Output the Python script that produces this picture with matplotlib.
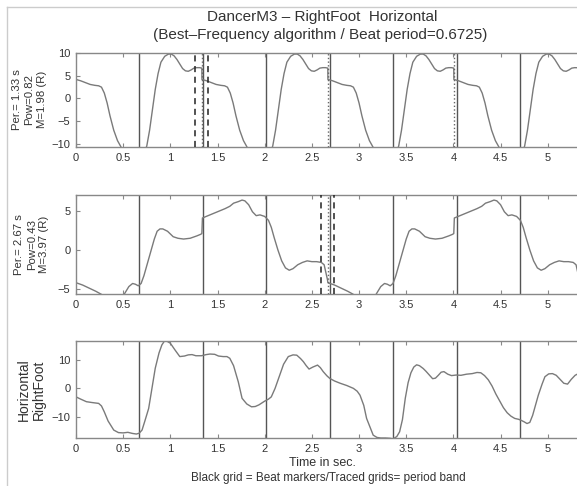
import numpy as np
import matplotlib
matplotlib.use('Agg')
from matplotlib import pyplot as plt
from matplotlib.lines import Line2D

plt.rcParams['font.family'] = ['Liberation Sans', 'DejaVu Sans']

beat_period = 0.6725
n_beats = 8

# top panel: one period (1.335 s) of the folded signal
top_period = 1.335
top_t = [0, 0.05, 0.10, 0.15, 0.20, 0.24, 0.27, 0.30, 0.33, 0.36, 0.40, 0.44, 0.48,
         0.52, 0.57, 0.62, 0.67, 0.71, 0.75, 0.78, 0.81, 0.84, 0.87, 0.90, 0.94,
         0.98, 1.01, 1.04, 1.07, 1.10, 1.13, 1.16, 1.19, 1.22, 1.25, 1.28, 1.31, 1.334]
top_v = [4.2, 3.9, 3.5, 3.1, 2.9, 2.8, 2.5, 1.2, -1.0, -3.8, -7.0, -9.3, -10.8,
         -12.5, -14.0, -14.5, -14.0, -12.5, -10.5, -7.0, -2.5, 2.0, 5.5, 8.0, 9.3,
         9.8, 9.8, 9.4, 8.6, 7.6, 6.6, 6.1, 6.0, 6.3, 6.7, 6.8, 6.8, 6.7]
top_band = [1.265, 1.40]
top_label = 'Per.= 1.33 s\nPow=0.82\nM=1.98 (R)'

# middle panel: one period (2.67 s)
mid_period = 2.67
mid_t = [0, 0.07, 0.14, 0.21, 0.27, 0.33, 0.39, 0.45, 0.51, 0.56, 0.60, 0.63, 0.66,
         0.69, 0.72, 0.76, 0.80, 0.83, 0.86, 0.89, 0.92, 0.97, 1.03, 1.08, 1.14,
         1.21, 1.28, 1.32, 1.334, 1.34, 1.40, 1.46, 1.52, 1.58, 1.63, 1.67, 1.72,
         1.76, 1.79, 1.83, 1.87, 1.91, 1.95, 2.00, 2.04, 2.07, 2.10, 2.14, 2.18,
         2.22, 2.26, 2.30, 2.35, 2.40, 2.45, 2.50, 2.55, 2.60, 2.63, 2.65, 2.665]
mid_v = [-4.2, -4.5, -4.9, -5.3, -5.7, -6.3, -6.6, -6.4, -5.7, -4.7, -4.3, -4.4, -4.6,
         -4.3, -3.3, -1.6, 0.1, 1.4, 2.4, 2.7, 2.7, 2.4, 1.7, 1.5, 1.4,
         1.5, 1.8, 2.0, 2.1, 4.1, 4.4, 4.7, 5.0, 5.3, 5.6, 6.0, 6.2,
         6.4, 6.3, 5.8, 4.9, 4.4, 4.5, 4.3, 3.8, 2.9, 1.6, 0.0, -1.4,
         -2.3, -2.6, -2.4, -1.9, -1.6, -1.4, -1.5, -1.5, -1.6, -1.9, -3.0, -3.8]
mid_band = [2.60, 2.735]
mid_label = 'Per.= 2.67 s\nPow=0.43\nM=3.97 (R)'

# bottom panel: raw signal
bot_t = [0, 0.05, 0.11, 0.17, 0.24, 0.27, 0.30, 0.34, 0.40, 0.45, 0.50, 0.55, 0.60,
         0.64, 0.67, 0.70, 0.73, 0.77, 0.80, 0.84, 0.88, 0.91, 0.94, 0.97, 1.00,
         1.05, 1.10, 1.15, 1.19, 1.23, 1.27, 1.33, 1.38, 1.42, 1.47, 1.51, 1.56,
         1.60, 1.63, 1.67, 1.72, 1.76, 1.81, 1.86, 1.90, 1.94, 2.00, 2.04, 2.07,
         2.11, 2.16, 2.20, 2.25, 2.30, 2.34, 2.38, 2.41, 2.44, 2.47, 2.51, 2.56,
         2.59, 2.62, 2.66, 2.69, 2.74, 2.80, 2.87, 2.94, 2.98, 3.01, 3.05, 3.08,
         3.12, 3.15, 3.19, 3.23, 3.28, 3.33, 3.36, 3.40, 3.43, 3.46, 3.49, 3.52,
         3.55, 3.58, 3.61, 3.64, 3.68, 3.71, 3.75, 3.78, 3.81, 3.84, 3.87, 3.90,
         3.94, 3.98, 4.03, 4.08, 4.14, 4.20, 4.25, 4.29, 4.33, 4.37, 4.41, 4.45,
         4.49, 4.53, 4.57, 4.61, 4.65, 4.69, 4.72, 4.75, 4.78, 4.81, 4.84, 4.87,
         4.90, 4.94, 4.97, 5.01, 5.05, 5.09, 5.13, 5.17, 5.21, 5.25, 5.29, 5.33, 5.38]
bot_v = [-3.0, -3.8, -4.7, -5.0, -5.3, -6.2, -8.3, -11.5, -14.7, -15.6, -15.7, -15.5, -15.9,
         -16.1, -15.8, -14.7, -11.5, -7.1, -1.0, 7.1, 12.5, 15.3, 16.8, 16.5, 15.9,
         13.5, 11.2, 11.4, 11.8, 11.9, 11.5, 11.5, 11.9, 12.1, 12.0, 11.4, 11.2,
         11.2, 10.6, 8.0, 2.3, -3.5, -5.5, -6.5, -6.4, -5.8, -4.5, -3.8, -3.0,
         0.0, 4.7, 8.5, 11.2, 11.8, 11.7, 10.5, 9.4, 8.0, 6.8, 7.5, 8.2,
         7.3, 5.9, 4.4, 3.5, 2.6, 1.8, 1.0, 0.0, -1.0, -2.4, -6.0, -10.6,
         -14.0, -16.5, -17.3, -17.5, -17.5, -17.6, -17.8, -17.0, -15.3, -11.0, -3.5, 2.0,
         5.5, 7.5, 8.3, 8.0, 7.0, 6.0, 4.5, 3.4, 3.6, 4.6, 5.7, 5.9,
         5.0, 4.5, 4.7, 4.6, 5.0, 5.2, 5.6, 5.5, 4.5, 3.0, 0.8, -2.0,
         -4.4, -6.8, -8.6, -9.8, -10.6, -10.9, -11.3, -11.8, -12.4, -12.0, -9.5, -6.0,
         -2.4, 1.5, 4.1, 5.1, 5.2, 4.6, 3.2, 1.8, 1.5, 3.2, 4.6, 5.3, 5.0]
bot_label = 'Horizontal\nRightFoot'

line_col = '#7a7a7a'
axis_col = '#888888'
text_col = '#333333'


def tile(t, v, period, tmax):
    tt = []
    vv = []
    k = 0
    while k * period < tmax:
        tt.extend(np.array(t) + k * period)
        vv.extend(v)
        k += 1
    return np.array(tt), np.array(vv)


def style_axes(ax, ylim, yticks):
    xmax = n_beats * beat_period
    ax.set_xlim(0, xmax)
    ax.set_ylim(*ylim)
    ax.set_xticks(np.arange(0, 5.01, 0.5))
    ax.set_xticklabels(['0', '0.5', '1', '1.5', '2', '2.5', '3', '3.5', '4', '4.5', '5'])
    ax.set_yticks(yticks)
    ax.set_yticklabels([str(y).replace('-', '\u2212') for y in yticks])
    ax.tick_params(direction='in', top=True, right=True, length=3, width=0.8,
                   colors=axis_col, labelcolor=text_col, labelsize=8, pad=4)
    for s in ax.spines.values():
        s.set_color(axis_col)
        s.set_linewidth(1.0)
    for k in range(1, n_beats):
        ax.axvline(k * beat_period, color='#555555', lw=1.0, zorder=1)


def side_label(ax, text, x, size, spacing):
    ax.set_ylabel(text, fontsize=size, color=text_col, linespacing=spacing,
                  va='center', ha='center', multialignment='center')
    ax.yaxis.set_label_coords(x, 0.5)


fig = plt.figure(figsize=(5.77, 4.86), dpi=100)
left = 76 / 577
width = (583.6 - 76) / 577

ax1 = fig.add_axes([left, 1 - 147 / 486, width, (147 - 52.7) / 486])
ax2 = fig.add_axes([left, 1 - 294 / 486, width, (294 - 195) / 486])
ax3 = fig.add_axes([left, 1 - 438 / 486, width, (438 - 340.7) / 486])

xmax = n_beats * beat_period

t, v = tile(top_t, top_v, top_period, xmax)
ax1.plot(t, v, color=line_col, lw=1.0, zorder=2)
style_axes(ax1, (-10.7, 10.1), [-10, -5, 0, 5, 10])
for x in top_band:
    ax1.axvline(x, color='#222222', lw=1.1, ls=(0, (4, 3)), zorder=3)
k = 1
while k * top_period < xmax:
    ax1.axvline(k * top_period, color='#666666', lw=1.0, ls=':', zorder=3)
    k += 1
side_label(ax1, top_label, -0.092, 8.2, 1.3)

t, v = tile(mid_t, mid_v, mid_period, xmax)
ax2.plot(t, v, color=line_col, lw=1.0, zorder=2)
style_axes(ax2, (-5.65, 7.05), [-5, 0, 5])
for x in mid_band:
    ax2.axvline(x, color='#222222', lw=1.1, ls=(0, (4, 3)), zorder=3)
k = 1
while k * mid_period < xmax:
    ax2.axvline(k * mid_period, color='#666666', lw=1.0, ls=':', zorder=3)
    k += 1
side_label(ax2, mid_label, -0.087, 8.2, 1.3)

ax3.plot(bot_t, bot_v, color=line_col, lw=1.0, zorder=2)
style_axes(ax3, (-17.5, 16.8), [-10, 0, 10])
side_label(ax3, bot_label, -0.088, 10, 1.05)

fig.text(322 / 577, 1 - 17 / 486, 'DancerM3 \u2013 RightFoot  Horizontal',
         ha='center', va='center', fontsize=11, color=text_col)
fig.text(320 / 577, 1 - 35 / 486, '(Best\u2013Frequency algorithm / Beat period=0.6725)',
         ha='center', va='center', fontsize=11, color=text_col)
fig.text(322 / 577, 1 - 463 / 486, 'Time in sec.', ha='center', va='center',
         fontsize=9, color=text_col)
fig.text(328 / 577, 1 - 478 / 486, 'Black grid = Beat markers/Traced grids= period band',
         ha='center', va='center', fontsize=8.5, color=text_col)

# light frame on the top and left edge
x0 = 7 / 577
y0 = 1 - 7 / 486
fig.add_artist(Line2D([x0, x0], [0, y0], transform=fig.transFigure, color='#cccccc', lw=1))
fig.add_artist(Line2D([x0, 1], [y0, y0], transform=fig.transFigure, color='#cccccc', lw=1))

fig.savefig('out.png', dpi=100)
